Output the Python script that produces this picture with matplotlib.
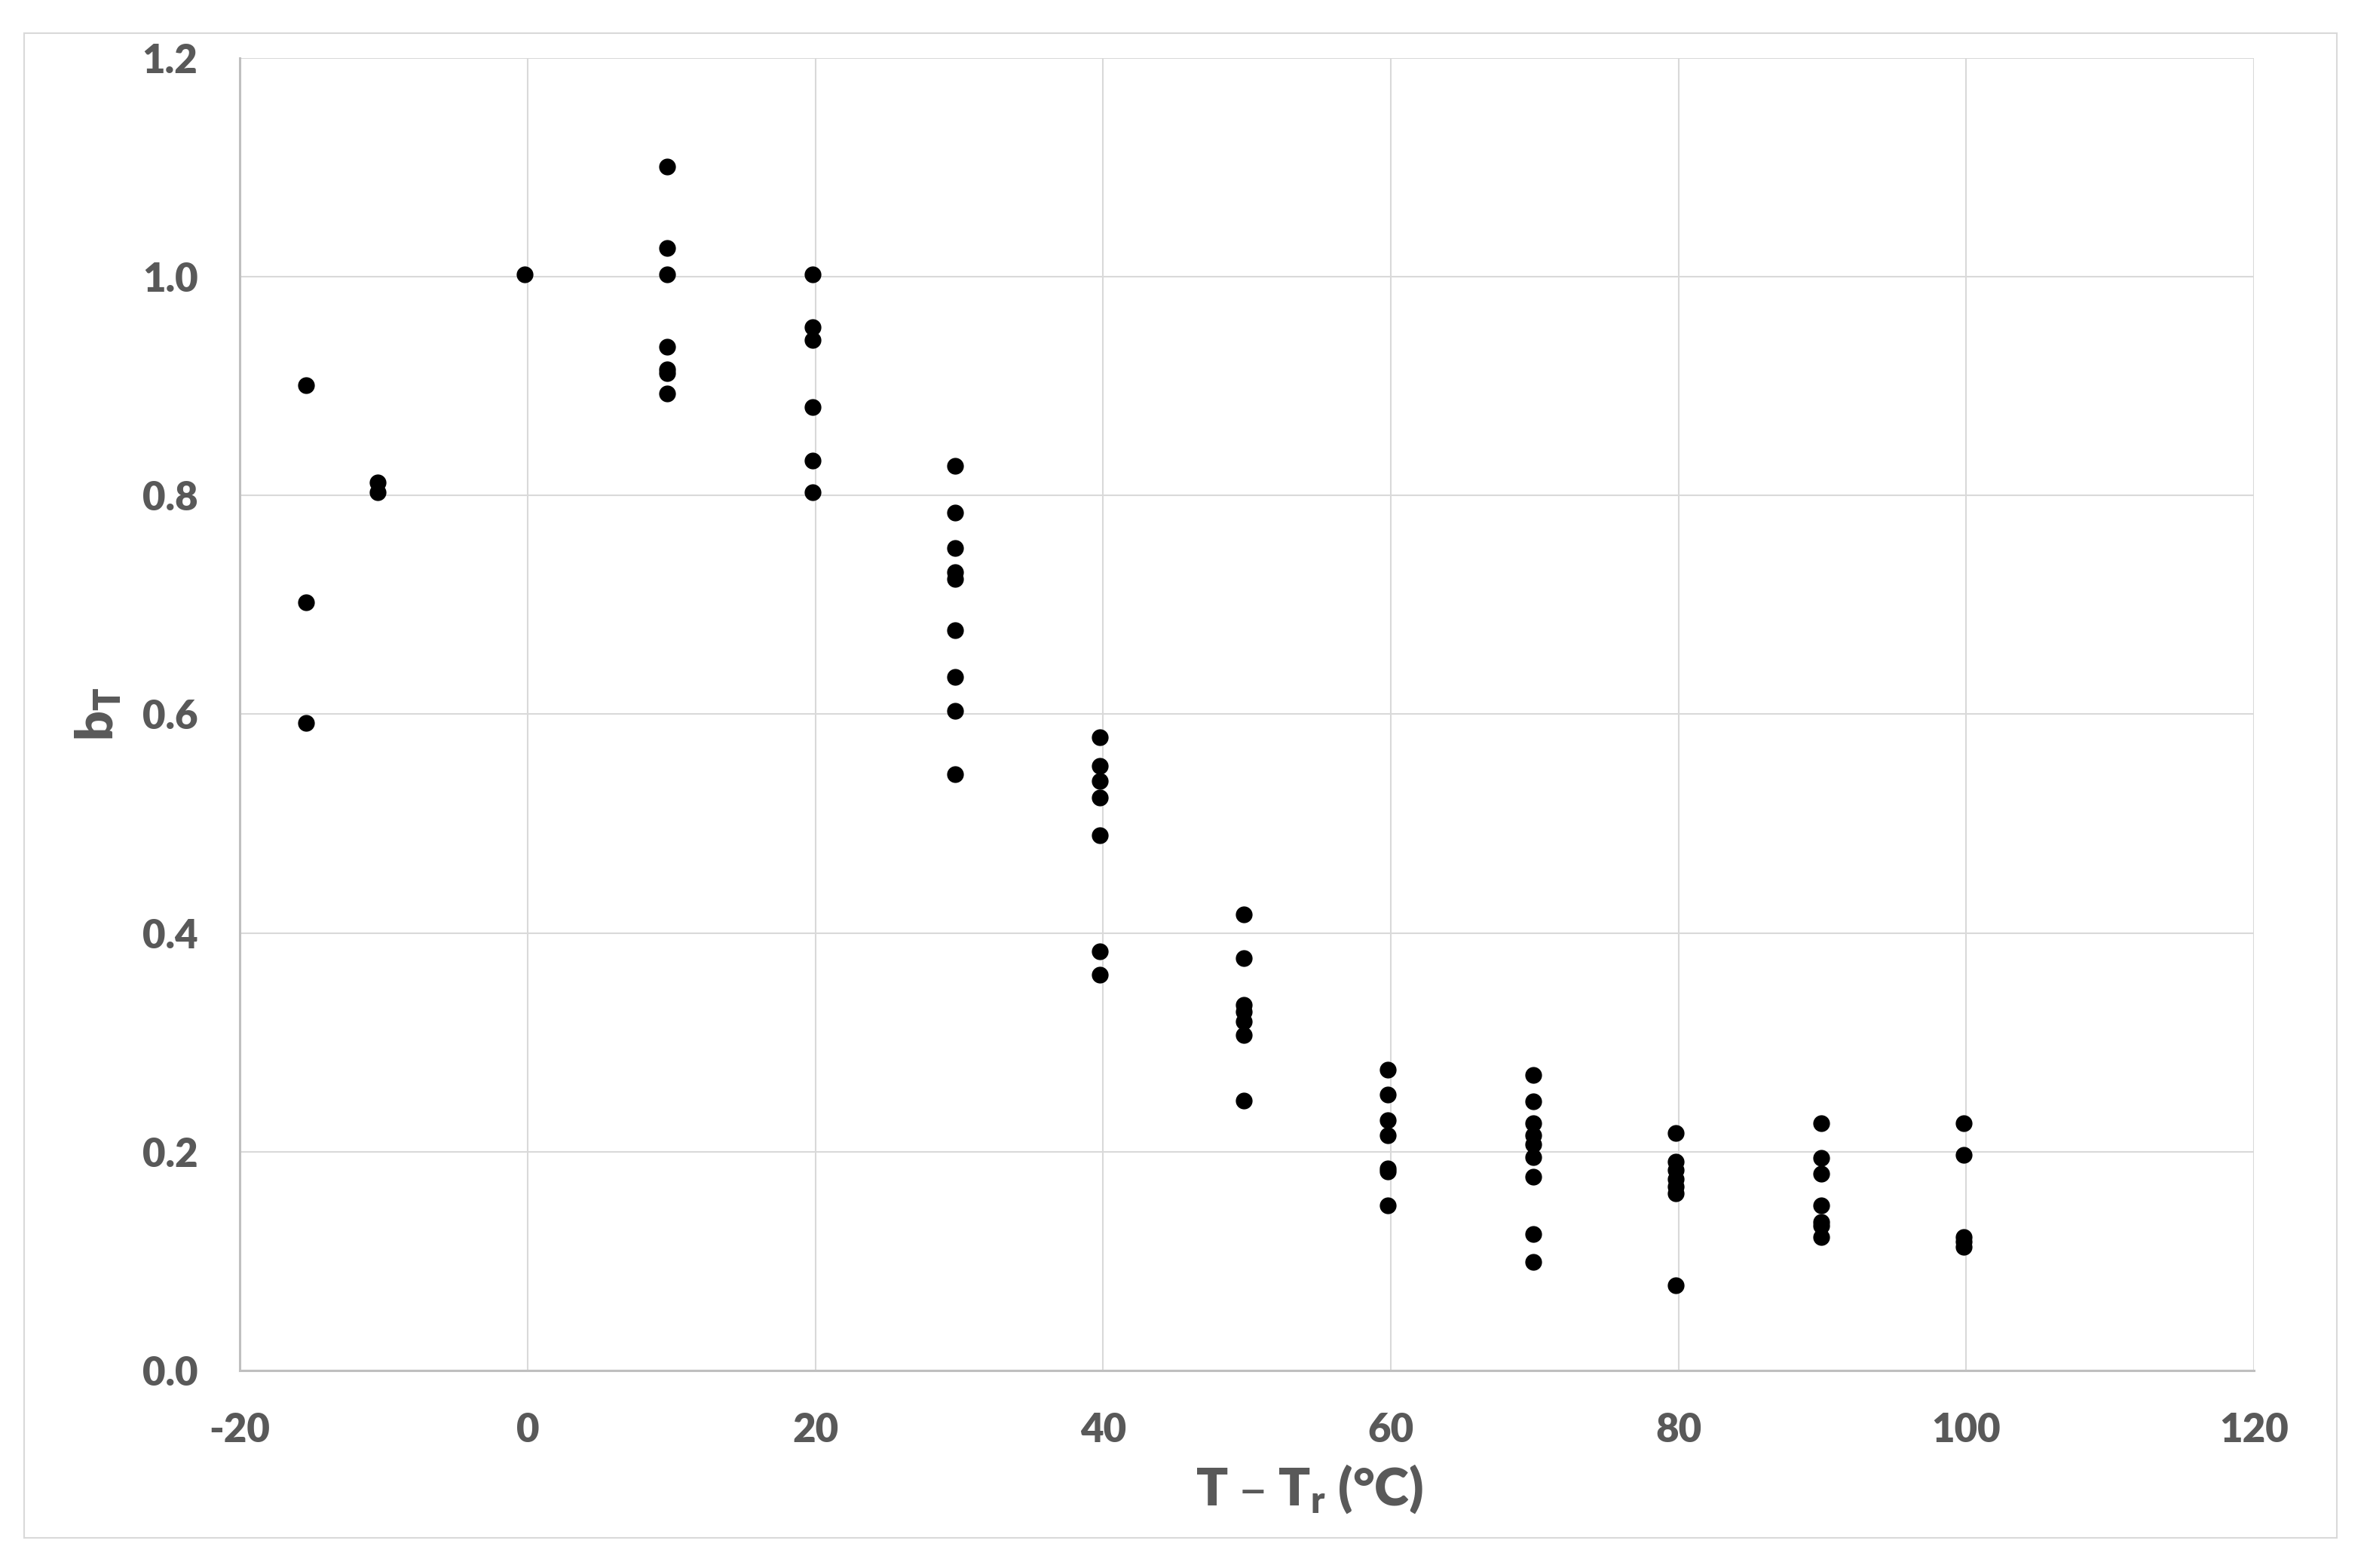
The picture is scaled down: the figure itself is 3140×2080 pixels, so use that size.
import numpy as np
import matplotlib
matplotlib.use('Agg')
import matplotlib.pyplot as plt
from matplotlib.patches import Rectangle

plt.rcParams['font.family'] = ['Lato', 'DejaVu Sans']
plt.rcParams['axes.unicode_minus'] = False
plt.rcParams['mathtext.default'] = 'regular'

temps = [-15.4, -10.4, -0.2, 9.7, 19.8, 29.7, 39.8, 49.8, 59.8, 69.9, 79.8, 89.9, 99.8]
bT_m15 = [0.901, 0.702, 0.592]
bT_m10 = [0.812, 0.803]
bT_0 = [1.002]
bT_10 = [1.101, 1.026, 1.002, 0.936, 0.915, 0.912, 0.893]
bT_20 = [1.002, 0.954, 0.942, 0.881, 0.832, 0.803]
bT_30 = [0.827, 0.784, 0.752, 0.730, 0.724, 0.677, 0.634, 0.603, 0.545]
bT_40 = [0.579, 0.553, 0.539, 0.524, 0.489, 0.383, 0.362]
bT_50 = [0.417, 0.377, 0.334, 0.328, 0.319, 0.307, 0.247]
bT_60 = [0.275, 0.252, 0.229, 0.215, 0.185, 0.182, 0.151]
bT_70 = [0.270, 0.246, 0.226, 0.215, 0.207, 0.195, 0.177, 0.125, 0.099]
bT_80 = [0.217, 0.191, 0.183, 0.175, 0.168, 0.162, 0.078]
bT_90 = [0.226, 0.194, 0.180, 0.151, 0.136, 0.132, 0.122]
bT_100 = [0.226, 0.197, 0.122, 0.118, 0.113]
groups = [bT_m15, bT_m10, bT_0, bT_10, bT_20, bT_30, bT_40, bT_50,
          bT_60, bT_70, bT_80, bT_90, bT_100]

x = np.concatenate([[t] * len(g) for t, g in zip(temps, groups)])
y = np.concatenate(groups)

grey = '#595959'
fig = plt.figure(figsize=(31.4, 20.8), dpi=100)
ax = fig.add_axes([0.1013, 0.126, 0.851, 0.837])

ax.plot(x, y, 'o', color='black', markersize=15, zorder=3)

ax.set_xlim(-20, 120)
ax.set_ylim(0, 1.2)
ax.set_xticks(np.arange(-20, 121, 20))
ax.set_yticks(np.arange(0, 1.21, 0.2))
ax.set_yticklabels(['%.1f' % v for v in np.arange(0, 1.21, 0.2)])
ax.grid(True, color='#d9d9d9', linewidth=1.5, zorder=0)
ax.set_axisbelow(True)
for s in ['top', 'right']:
    ax.spines[s].set_visible(False)
for s in ['left', 'bottom']:
    ax.spines[s].set_color('#bfbfbf')
    ax.spines[s].set_linewidth(2.2)
ax.tick_params(axis='both', length=0, labelsize=38, labelcolor=grey, pad=40)
for lab in ax.get_xticklabels() + ax.get_yticklabels():
    lab.set_fontweight('heavy')

ax.set_xlabel(r'T – T$_\mathregular{r}$ (°C)', fontsize=50, fontweight='heavy', color=grey)
ax.xaxis.set_label_coords(0.531, -0.07)
ax.set_ylabel(r'b$_\mathregular{T}$', fontsize=50, fontweight='heavy', color=grey)
ax.yaxis.set_label_coords(-0.058, 0.5)

fig.patches.append(Rectangle((32 / 3140, 40 / 2080), (3100 - 32) / 3140, (2038 - 42) / 2080,
                             transform=fig.transFigure, fill=False,
                             edgecolor='#d9d9d9', linewidth=1.5))

fig.savefig('out.png', dpi=100, facecolor='white')
